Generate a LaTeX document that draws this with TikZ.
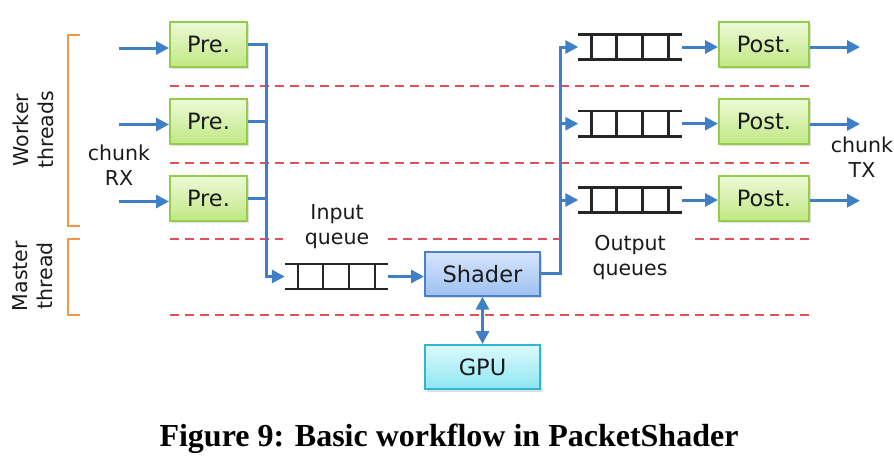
\documentclass[tikz,border=0pt]{standalone}
\usepackage{fontspec}
\setmainfont{DejaVu Sans}
\newfontfamily\capfont{Liberation Serif}
\usetikzlibrary{arrows.meta,shadows}
\definecolor{arrblue}{HTML}{3F7FC6}
\definecolor{dred}{HTML}{E0505A}
\definecolor{brorange}{HTML}{F79646}
\definecolor{grtop}{HTML}{EEFAD8}
\definecolor{grbot}{HTML}{C0E884}
\definecolor{grdraw}{HTML}{96CC4C}
\definecolor{bltop}{HTML}{D6E6FC}
\definecolor{blbot}{HTML}{9EC0F2}
\definecolor{bldraw}{HTML}{4A82C8}
\definecolor{cytop}{HTML}{DCFAFD}
\definecolor{cybot}{HTML}{8EE6F2}
\definecolor{cydraw}{HTML}{2FB6D0}
\definecolor{txt}{HTML}{1A1A1A}
\tikzset{
  boxbase/.style={rectangle, line width=2pt, font=\fontsize{22.5}{24}\selectfont, text=txt,
    drop shadow={opacity=0.25, shadow xshift=1.5pt, shadow yshift=-2.5pt}},
  greenbox/.style={boxbase, draw=grdraw, top color=grtop, bottom color=grbot, minimum width=77pt, minimum height=45pt},
  bluebox/.style={boxbase, draw=bldraw, top color=bltop, bottom color=blbot, minimum width=115pt, minimum height=44pt},
  cyanbox/.style={boxbase, draw=cydraw, top color=cytop, bottom color=cybot, minimum width=115pt, minimum height=44pt},
  qnode/.style={rectangle, minimum width=103pt, minimum height=25pt, inner sep=0pt},
  rail/.style={line width=2.5pt, black!85},
  arr/.style={line width=3pt, arrblue, -{Triangle[length=13pt,width=13pt]}},
  dblarr/.style={line width=3pt, arrblue, {Triangle[length=13pt,width=13pt]}-{Triangle[length=13pt,width=13pt]}},
  bus/.style={line width=3pt, arrblue},
  sep/.style={line width=2pt, dred, dash pattern=on 9pt off 6pt},
  bracket/.style={line width=2pt, brorange},
  lbl/.style={font=\fontsize{20.5}{25}\selectfont, text=txt, align=center, inner sep=0pt},
}
\newcommand{\drawqueue}[1]{%
  \draw[rail] (#1.north west) -- (#1.north east);
  \draw[rail] (#1.south west) -- (#1.south east);
  \foreach \dx in {13,38,64,90}{
    \draw[rail] ([xshift=\dx pt]#1.north west) -- ([xshift=\dx pt]#1.south west);
  }%
}
\begin{document}
\begin{tikzpicture}[x=1pt,y=-1pt]
\useasboundingbox (0,0) rectangle (894,474);

% separators
\draw[sep] (170,86) -- (809,86);
\draw[sep] (170,163) -- (809,163);
\draw[sep] (170,239) -- (283,239);
\draw[sep] (388,239) -- (566,239);
\draw[sep] (695,239) -- (809,239);
\draw[sep] (170,315) -- (809,315);

% brackets
\draw[bracket] (80,35) -- (68,35) -- (68,226) -- (80,226);
\draw[bracket] (80,239) -- (68,239) -- (68,315) -- (80,315);
\node[lbl, rotate=90] (wt) at (33,130) {Worker\\threads};
\node[lbl, rotate=90] (mt) at (33,276) {Master\\thread};

% Pre boxes
\node[greenbox] (pre1) at (208.5,44) {Pre.};
\node[greenbox] (pre2) at (208.5,121) {Pre.};
\node[greenbox] (pre3) at (208.5,198) {Pre.};
\coordinate (in1) at (119,48);
\coordinate (in2) at (119,124.5);
\coordinate (in3) at (119,201.5);
\draw[arr] (in1) -- (pre1.west |- in1);
\draw[arr] (in2) -- (pre2.west |- in2);
\draw[arr] (in3) -- (pre3.west |- in3);
\node[lbl] (rx) at (119,165.5) {chunk\\RX};

% input queue
\node[qnode] (iq) at (336.5,276.5) {};
\drawqueue{iq}
\node[lbl] (iql) at (337,227) {Input\\queue};
\coordinate (busx) at (266,0);
\draw[bus] (pre2.east) -- (busx |- pre2.east);
\draw[bus] (pre3.east) -- (busx |- pre3.east);
\draw[arr] (pre1.east) -- (busx |- pre1.east) -- (busx |- iq.west) -- (iq.west);

% shader & GPU
\node[bluebox] (sh) at (482.5,273.7) {Shader};
\node[cyanbox] (gpu) at (482.5,367) {GPU};
\draw[arr] (iq.east) -- (sh.west |- iq.east);
\draw[dblarr] (sh.south) -- (gpu.north);

% output queues
\node[qnode] (oq1) at (630,47) {};
\node[qnode] (oq2) at (630,123.7) {};
\node[qnode] (oq3) at (630,200) {};
\drawqueue{oq1}
\drawqueue{oq2}
\drawqueue{oq3}
\node[lbl] (oql) at (630,258) {Output\\queues};
\coordinate (busy) at (560,0);
\draw[arr] (sh.east) -- (busy |- sh.east) -- (busy |- oq1.west) -- (oq1.west);
\draw[arr] (busy |- oq2.west) -- (oq2.west);
\draw[arr] (busy |- oq3.west) -- (oq3.west);

% Post boxes
\node[greenbox, minimum width=90pt] (post1) at (764,44) {Post.};
\node[greenbox, minimum width=90pt] (post2) at (764,121) {Post.};
\node[greenbox, minimum width=90pt] (post3) at (764,198) {Post.};
\draw[arr] (oq1.east) -- (post1.west |- oq1.east);
\draw[arr] (oq2.east) -- (post2.west |- oq2.east);
\draw[arr] (oq3.east) -- (post3.west |- oq3.east);
\coordinate (out1) at (860,47);
\coordinate (out2) at (860,124);
\coordinate (out3) at (860,200.7);
\draw[arr] (post1.east |- out1) -- (out1);
\draw[arr] (post2.east |- out2) -- (out2);
\draw[arr] (post3.east |- out3) -- (out3);
\node[lbl] (tx) at (862,157.5) {chunk\\TX};

% caption
\node[inner sep=0pt, font=\capfont\bfseries\fontsize{32}{36}\selectfont] (cap) at (449,439) {Figure 9: Basic workflow in PacketShader};
\end{tikzpicture}
\end{document}
